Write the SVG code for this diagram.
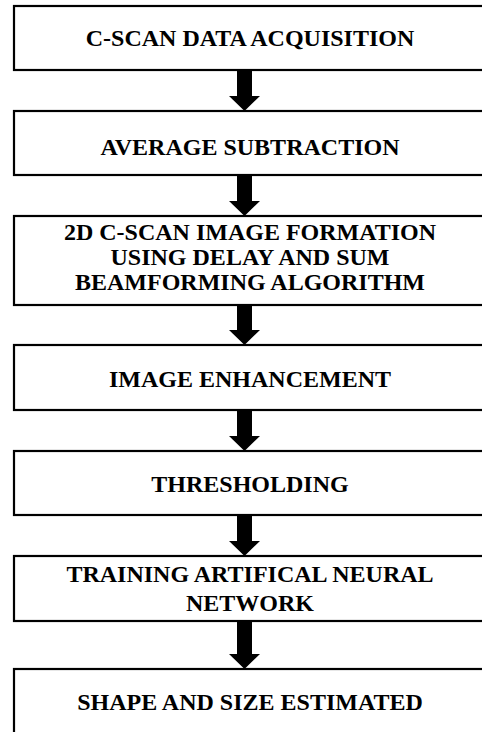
<svg xmlns="http://www.w3.org/2000/svg" width="482" height="732" viewBox="0 0 482 732">
<style>
.box{fill:#fff;stroke:#000;stroke-width:2.2}
.lbl{font-family:"Liberation Serif","Times New Roman",serif;font-weight:bold;font-size:24px;fill:#000;text-anchor:middle}
.arr{fill:#000;stroke:none}
</style>
<defs>
<path id="arrowShape" d="M-7.5,0 H7.5 V-15 H15.5 L0,0 Z"/>
</defs>
<rect width="482" height="732" fill="#fff"/>
<g id="n1"><rect class="box" x="14" y="6" width="500" height="64"/><text class="lbl" x="250" y="46">C-SCAN DATA ACQUISITION</text></g>
<g id="n2"><rect class="box" x="14" y="111" width="500" height="64"/><text class="lbl" x="250" y="155">AVERAGE SUBTRACTION</text></g>
<g id="n3"><rect class="box" x="14" y="216" width="500" height="89"/><text class="lbl" x="250" y="240">2D C-SCAN IMAGE FORMATION</text><text class="lbl" x="250" y="265">USING DELAY AND SUM</text><text class="lbl" x="250" y="290">BEAMFORMING ALGORITHM</text></g>
<g id="n4"><rect class="box" x="14" y="345" width="500" height="65"/><text class="lbl" x="250" y="387">IMAGE ENHANCEMENT</text></g>
<g id="n5"><rect class="box" x="14" y="451" width="500" height="64"/><text class="lbl" x="250" y="492">THRESHOLDING</text></g>
<g id="n6"><rect class="box" x="14" y="556" width="500" height="65"/><text class="lbl" x="250" y="582">TRAINING ARTIFICAL NEURAL</text><text class="lbl" x="250" y="611">NETWORK</text></g>
<g id="n7"><rect class="box" x="14" y="669" width="500" height="80"/><text class="lbl" x="250" y="710">SHAPE AND SIZE ESTIMATED</text></g>
<g id="connectors">
<path class="arr" d="M237,71 H252 V96 H260 L244.5,111 L229,96 H237 Z"/>
<path class="arr" d="M237,176 H252 V201 H260 L244.5,216 L229,201 H237 Z"/>
<path class="arr" d="M237,306 H252 V330 H260 L244.5,345 L229,330 H237 Z"/>
<path class="arr" d="M237,411 H252 V436 H260 L244.5,451 L229,436 H237 Z"/>
<path class="arr" d="M237,516 H252 V541 H260 L244.5,556 L229,541 H237 Z"/>
<path class="arr" d="M237,622 H252 V654 H260 L244.5,669 L229,654 H237 Z"/>
</g>
</svg>
